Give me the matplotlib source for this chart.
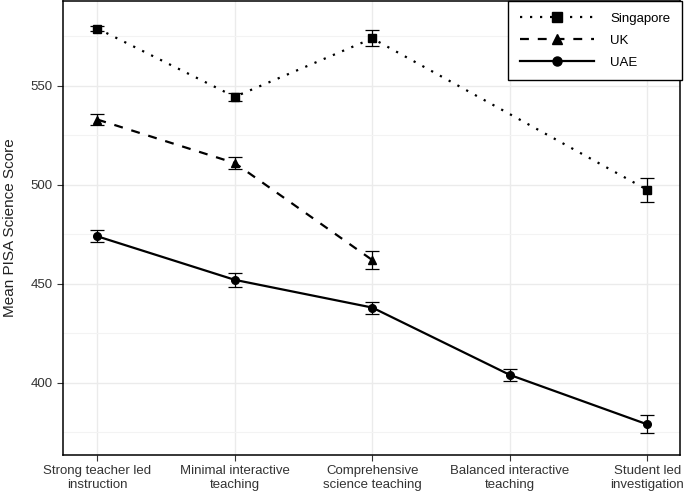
import numpy as np
import matplotlib
matplotlib.use('Agg')
import matplotlib.pyplot as plt
from matplotlib.ticker import MultipleLocator
from matplotlib.lines import Line2D

plt.rcParams['font.family'] = ['Liberation Sans', 'DejaVu Sans']

categories = ['Strong teacher led\ninstruction', 'Minimal interactive\nteaching',
              'Comprehensive\nscience teaching', 'Balanced interactive\nteaching',
              'Student led\ninvestigation']

sg_pos = [1, 2, 3, 5]
sg_mean = [579, 544.5, 574, 497.5]
sg_err = [1.5, 2, 4, 6]

uk_pos = [1, 2, 3]
uk_mean = [533, 511, 462]
uk_err = [3, 3, 4.5]

uae_pos = [1, 2, 3, 4, 5]
uae_mean = [474, 452, 438, 404, 379]
uae_err = [3, 3.5, 3, 3, 4.5]

fig = plt.figure(figsize=(6.85, 4.96), dpi=100)
ax = fig.add_axes([0.092, 0.083, 0.901, 0.915])

series = [
    ('Singapore', sg_pos, sg_mean, sg_err, 's', (0, (1, 3.5))),
    ('UK', uk_pos, uk_mean, uk_err, '^', (0, (4, 4))),
    ('UAE', uae_pos, uae_mean, uae_err, 'o', '-'),
]
handles = []
for name, pos, mean, err, mk, ls in series:
    ax.errorbar(pos, mean, yerr=err, color='black', marker=mk, markersize=5.5,
                linestyle=ls, linewidth=1.6, elinewidth=0.9, capsize=5,
                capthick=0.9, zorder=3)
    handles.append(Line2D([], [], color='black', marker=mk, markersize=6.5,
                          linestyle=ls, linewidth=1.6, label=name))

ax.set_xlim(0.75, 5.24)
ax.set_ylim(363.6, 592.9)
ax.set_xticks(range(1, 6))
ax.set_xticklabels(categories)
ax.yaxis.set_major_locator(MultipleLocator(50))
ax.yaxis.set_minor_locator(MultipleLocator(25))
ax.tick_params(axis='y', which='minor', length=0)
ax.tick_params(axis='both', which='major', length=4, width=0.8, color='#333333',
               labelsize=9.5, labelcolor='#333333')
ax.set_ylabel('Mean PISA Science Score', fontsize=11, color='#222222')
ax.yaxis.set_label_coords(-0.075, 0.5)
ax.grid(which='major', color='#ebebeb', linewidth=1)
ax.grid(which='minor', axis='y', color='#f3f3f3', linewidth=0.8)
ax.set_axisbelow(True)
for s in ax.spines.values():
    s.set_color('black')
    s.set_linewidth(1.1)

leg = ax.legend(handles=handles, loc='upper right', fontsize=9.5, handlelength=5.6,
                frameon=True, fancybox=False, edgecolor='black',
                borderpad=0.9, labelspacing=0.72, handletextpad=1.25,
                borderaxespad=0, bbox_to_anchor=(1.003, 1.0))
leg.get_frame().set_linewidth(1.0)
leg.get_frame().set_alpha(1)

fig.savefig('out.png', dpi=100)
